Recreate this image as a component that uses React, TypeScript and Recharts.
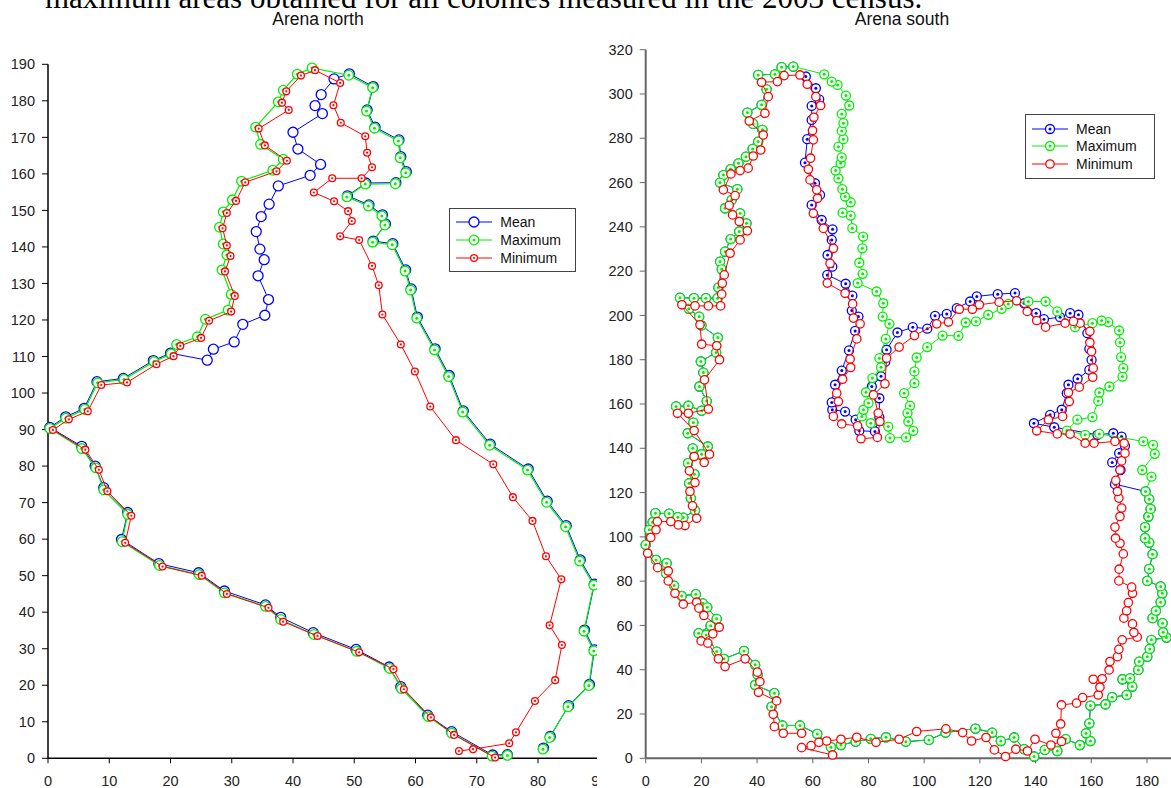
import { ScatterChart, Scatter, XAxis, YAxis, Legend } from 'recharts';

type Pt = [number, number];

// ---- Arena north ----
const northMean: Pt[] = [
  [75.0, 1.0], [72.6, 0.9], [65.9, 7.3], [62.0, 11.8], [57.6, 19.6], [55.7, 25.0], [50.3, 29.8],
  [43.3, 34.4], [38.0, 38.6], [35.5, 42.0], [28.8, 45.8], [24.6, 50.8], [18.1, 53.3], [12.0, 59.9],
  [13.0, 67.3], [9.1, 74.1], [7.7, 80.0], [5.5, 85.4], [0.3, 90.6], [2.9, 93.5], [5.9, 95.8],
  [8.0, 103.1], [12.3, 104.0], [17.2, 108.9], [20.0, 110.9], [26.0, 109.0], [27.0, 112.0],
  [30.4, 114.0], [31.8, 118.8], [35.4, 121.3], [36.0, 125.6], [34.3, 132.1], [35.3, 136.5],
  [34.6, 139.4], [34.0, 144.2], [34.8, 148.3], [36.1, 151.7], [37.6, 156.7], [42.8, 159.6],
  [44.5, 162.6], [40.8, 166.8], [40.0, 171.4], [44.8, 176.5], [43.6, 178.7], [44.6, 181.7],
  [46.7, 186.0], [49.2, 187.4], [53.1, 183.9], [52.1, 177.5], [53.4, 172.8], [57.3, 169.3],
  [57.6, 164.7], [58.5, 160.6], [56.8, 157.6], [51.9, 157.5], [48.9, 154.0], [52.4, 151.5],
  [54.6, 148.8], [55.1, 146.3], [53.1, 141.6], [56.3, 140.9], [58.4, 133.7], [59.3, 128.5],
  [60.3, 120.8], [63.2, 112.1], [65.5, 104.8], [67.8, 95.1], [72.2, 86.0], [78.4, 79.2],
  [81.5, 70.4], [84.6, 63.7], [86.9, 54.3], [89.2, 47.7], [87.6, 35.1], [89.2, 29.7],
  [88.4, 20.2], [85.0, 14.4], [82.0, 6.0], [80.9, 2.8],
];

const northMaximum: Pt[] = [
  [75.0, 0.8], [72.5, 0.6], [65.9, 6.9], [62.1, 11.4], [57.7, 19.1], [55.8, 24.6], [50.4, 29.3],
  [43.4, 33.9], [38.0, 38.0], [35.5, 41.6], [28.8, 45.3], [24.7, 50.3], [18.2, 52.8], [12.1, 59.3],
  [13.0, 66.8], [9.1, 73.5], [7.8, 79.5], [5.5, 84.8], [0.3, 90.3], [2.9, 93.1], [6.0, 95.5],
  [8.1, 102.8], [12.4, 103.7], [17.3, 108.6], [20.1, 110.7], [21.0, 113.3], [24.4, 115.4],
  [25.7, 120.2], [29.4, 122.7], [29.9, 127.0], [28.4, 133.7], [29.2, 137.8], [28.6, 140.8],
  [28.0, 145.4], [28.6, 149.6], [30.1, 152.9], [31.6, 158.0], [36.7, 161.0], [38.4, 164.0],
  [34.7, 168.1], [33.9, 172.8], [37.6, 179.7], [38.4, 182.9], [40.7, 187.3], [43.1, 189.0],
  [49.1, 187.0], [53.0, 183.6], [52.0, 177.2], [53.3, 172.5], [57.2, 169.0], [57.5, 164.4],
  [58.4, 160.3], [56.7, 157.3], [51.8, 157.2], [48.8, 153.7], [52.3, 151.2], [54.5, 148.5],
  [55.0, 146.0], [53.0, 141.3], [56.2, 140.6], [58.3, 133.4], [59.2, 128.2], [60.2, 120.5],
  [63.1, 111.8], [65.4, 104.5], [67.7, 94.8], [72.1, 85.7], [78.3, 78.9], [81.4, 70.1],
  [84.5, 63.4], [86.8, 54.0], [89.1, 47.4], [87.5, 34.8], [89.1, 29.4], [88.3, 19.9],
  [84.9, 14.1], [81.9, 5.7], [80.8, 2.5],
];

const northMinimum: Pt[] = [
  [67.1, 2.0], [69.4, 2.5], [75.3, 4.1], [76.4, 7.1], [79.5, 15.7], [82.8, 21.4], [83.9, 31.0],
  [81.9, 36.4], [83.8, 49.0], [81.3, 55.3], [79.1, 65.0], [75.9, 71.5], [72.7, 80.5], [66.6, 87.1],
  [62.4, 96.3], [59.9, 105.9], [57.6, 113.3], [54.6, 121.5], [54.0, 129.5], [52.9, 134.8],
  [50.8, 141.9], [47.7, 142.9], [49.6, 147.1], [49.0, 149.8], [46.7, 152.5], [43.4, 154.9],
  [46.4, 158.8], [51.2, 158.8], [52.9, 161.8], [52.1, 165.8], [51.8, 170.3], [47.8, 174.0],
  [46.6, 178.8], [47.7, 184.9], [43.6, 188.4], [41.3, 186.9], [38.9, 182.6], [38.2, 179.5],
  [39.3, 177.5], [34.4, 172.4], [35.4, 167.8], [39.0, 163.6], [37.3, 160.7], [32.2, 157.7],
  [30.7, 152.6], [29.2, 149.3], [28.5, 145.1], [29.2, 140.4], [29.8, 137.5], [28.9, 133.3],
  [30.5, 126.6], [29.9, 122.3], [26.3, 119.8], [25.0, 115.1], [21.6, 112.9], [20.5, 110.1],
  [17.7, 107.9], [12.9, 102.9], [8.7, 102.2], [6.5, 95.0], [3.4, 92.8], [0.8, 89.9], [6.1, 84.5],
  [8.3, 79.0], [9.7, 73.1], [13.6, 66.4], [12.6, 59.0], [18.7, 52.5], [25.1, 50.0], [29.2, 45.0],
  [36.0, 41.2], [38.4, 37.4], [44.0, 33.5], [50.8, 29.0], [56.4, 24.4], [58.1, 18.9], [62.5, 11.2],
  [66.3, 6.4], [73.0, 0.2],
];

// ---- Arena south ----
// left edge, bottom and right side: Mean and Maximum run together here
const southOuterEdge: Pt[] = [
  [53.0, 312.4], [48.8, 312.1], [46.4, 308.9], [40.4, 308.6], [43.4, 302.1], [41.6, 295.1],
  [36.5, 291.6], [38.6, 286.5], [41.9, 283.8], [40.4, 278.5], [38.4, 275.2], [36.0, 271.7],
  [33.3, 268.7], [30.5, 266.1], [27.9, 263.4], [26.7, 260.0], [32.9, 257.0], [30.9, 252.2],
  [28.5, 248.4], [33.9, 246.1], [36.2, 241.6], [33.6, 237.9], [30.5, 234.5], [28.5, 228.8],
  [26.7, 224.3], [27.3, 220.8], [26.1, 212.6], [25.8, 207.8], [21.6, 207.8], [17.3, 207.8],
  [12.3, 208.0], [15.5, 203.0], [19.2, 199.5], [20.0, 195.5], [25.9, 190.0], [25.3, 183.3],
  [19.8, 179.2], [20.7, 174.2], [19.3, 167.9], [21.9, 161.3], [20.1, 157.0], [15.3, 159.2],
  [10.9, 158.9], [17.1, 151.6], [15.1, 146.8], [22.3, 140.8], [20.1, 137.3], [16.9, 140.0],
  [15.2, 133.3], [17.5, 128.3], [15.6, 124.2], [16.2, 117.5], [17.7, 111.9], [13.5, 108.7],
  [11.5, 108.9], [8.4, 110.5], [3.5, 110.7], [2.5, 106.6], [1.3, 103.2], [0.0, 96.4], [3.7, 89.6],
  [7.5, 88.1], [7.3, 83.6], [10.2, 78.0], [12.9, 73.3], [18.0, 74.1], [20.5, 70.0], [22.1, 68.2],
  [25.5, 63.0], [23.3, 59.9], [19.0, 56.5], [21.7, 55.7], [25.5, 48.2], [28.1, 44.9], [35.3, 48.5],
  [39.3, 42.2], [40.2, 37.7], [39.3, 33.1], [46.2, 29.4], [45.2, 23.3], [49.1, 14.8], [55.4, 14.8],
  [61.6, 11.0], [66.5, 5.0], [70.1, 6.0], [75.4, 7.5], [80.8, 8.8], [86.3, 9.5], [93.4, 7.5],
  [101.7, 8.3], [107.7, 11.6], [118.4, 13.4], [124.4, 11.6], [127.5, 7.8], [132.3, 9.4],
  [135.9, 4.1], [139.5, 0.8], [143.3, 3.8], [147.8, 3.3], [150.8, 8.7], [155.9, 6.0], [159.7, 7.8],
  [158.1, 11.3], [159.3, 15.8], [159.7, 23.8], [165.1, 24.4], [167.5, 27.6], [172.7, 28.6],
  [174.7, 32.4], [171.2, 35.7], [173.9, 36.1], [176.9, 39.9], [177.2, 43.7], [180.1, 45.9],
  [181.0, 49.4], [181.6, 53.5], [187.0, 54.5], [185.8, 56.9], [185.6, 61.0], [182.0, 63.3],
  [183.2, 66.6], [184.9, 70.5], [185.5, 74.5], [184.9, 77.6], [180.1, 80.1], [180.8, 85.5],
  [182.0, 92.2], [180.8, 97.4], [179.3, 99.4], [179.3, 104.4], [180.5, 109.2], [181.3, 112.6],
  [180.8, 117.0], [179.5, 120.5],
];

const southMaximumStart: Pt[] = [[64.1, 308.9]];

const southMaximumRest: Pt[] = [
  [181.6, 127.2], [178.3, 130.2], [182.8, 137.5], [182.2, 141.5], [178.7, 143.1], [162.9, 146.5],
  [157.8, 146.1], [151.2, 148.0], [155.0, 152.9], [160.4, 154.1], [162.5, 161.4], [162.9, 165.2],
  [166.5, 167.9], [171.2, 172.4], [171.5, 176.2], [170.7, 181.2], [170.3, 187.8], [170.0, 193.2],
  [166.1, 197.0], [163.7, 197.7], [160.4, 196.5], [154.2, 194.7], [147.8, 201.8], [143.6, 206.3],
  [137.4, 206.3], [130.2, 205.2], [127.8, 203.0], [123.0, 200.3], [118.6, 197.3], [114.9, 196.8],
  [112.3, 190.8], [106.6, 190.9], [101.1, 185.7], [97.3, 181.0], [96.5, 174.7], [96.5, 169.4],
  [92.8, 164.9], [94.9, 159.2], [94.0, 155.9], [94.3, 152.1], [96.1, 147.9], [93.5, 144.9],
  [87.7, 144.6], [87.1, 149.8], [80.8, 151.3], [77.6, 154.4], [78.2, 157.4], [80.0, 160.4],
  [79.1, 165.3], [81.4, 171.7], [84.5, 176.6], [83.9, 180.7], [86.2, 189.4], [87.5, 196.2],
  [85.1, 199.5], [85.3, 205.5], [82.9, 210.8], [76.1, 214.6], [77.9, 218.8], [76.7, 223.8],
  [77.8, 230.3], [78.1, 235.6], [74.2, 239.4], [73.6, 245.1], [70.7, 246.4], [73.6, 251.1],
  [71.6, 253.7], [70.6, 257.0], [69.2, 261.9], [68.2, 265.4], [70.0, 268.7], [70.4, 271.4],
  [69.2, 276.2], [71.0, 279.6], [70.4, 283.3], [71.0, 286.8], [70.4, 291.0], [73.1, 294.8],
  [71.9, 299.3], [68.9, 304.1], [66.8, 305.6],
];

const southMeanRest: Pt[] = [
  [168.5, 123.8], [170.5, 130.2], [167.5, 133.6], [170.0, 137.8], [172.1, 141.1], [170.9, 145.3],
  [167.9, 146.8], [162.2, 146.1], [146.7, 149.5], [139.4, 151.3], [145.2, 155.1], [149.4, 157.4],
  [151.2, 164.9], [151.8, 168.7], [155.1, 171.4], [159.3, 175.4], [160.1, 179.9], [159.3, 184.9],
  [158.6, 192.0], [155.4, 200.3], [152.4, 201.0], [148.8, 199.2], [143.0, 198.3], [140.2, 201.0],
  [135.9, 205.5], [132.6, 210.1], [126.4, 209.6], [118.9, 208.6], [116.5, 206.3], [111.7, 203.3],
  [108.1, 200.7], [103.9, 199.8], [101.1, 194.0], [95.9, 194.7], [90.4, 192.3], [86.5, 184.5],
  [86.0, 179.0], [84.5, 172.5], [81.2, 167.9], [83.9, 162.6], [83.9, 154.0], [82.3, 147.6],
  [76.7, 147.9], [75.4, 152.9], [71.6, 156.6], [67.0, 157.4], [66.8, 160.7], [68.0, 168.7],
  [70.4, 175.1], [73.0, 184.2], [75.2, 193.0], [76.4, 199.5], [74.0, 202.2], [74.2, 208.9],
  [71.8, 214.3], [65.2, 218.3], [67.0, 222.0], [65.3, 227.3], [66.8, 234.1], [67.1, 238.9],
  [63.2, 243.1], [59.6, 249.9], [62.6, 254.4], [60.8, 259.7], [57.2, 269.0], [58.0, 279.6],
  [59.6, 288.3], [59.6, 294.6], [62.3, 297.6], [61.1, 302.6], [57.5, 307.9],
];

const southMinimum: Pt[] = [
  [67.1, 1.5], [56.0, 4.8], [59.4, 5.7], [62.2, 7.2], [65.0, 7.8], [70.1, 8.6], [75.8, 9.5],
  [82.7, 7.2], [91.0, 8.6], [97.3, 12.1], [107.8, 13.3], [113.8, 11.6], [117.0, 7.8], [122.2, 9.4],
  [125.2, 3.8], [129.2, 0.8], [132.9, 4.1], [137.1, 3.3], [139.8, 8.6], [145.5, 6.0], [149.3, 7.6],
  [147.3, 11.3], [149.0, 15.5], [149.3, 24.1], [154.7, 24.9], [156.9, 27.4], [162.5, 28.6],
  [163.1, 32.1], [160.7, 35.7], [163.9, 35.9], [166.4, 39.9], [166.7, 43.7], [169.4, 45.9],
  [169.9, 49.2], [171.1, 53.5], [176.5, 54.7], [175.3, 56.8], [174.8, 60.7], [171.7, 63.3],
  [172.7, 66.6], [173.3, 70.3], [174.8, 74.5], [174.5, 77.3], [169.9, 80.1], [170.0, 85.4],
  [171.5, 92.3], [170.3, 97.1], [168.7, 99.4], [168.5, 104.4], [170.3, 109.2], [170.9, 113.0],
  [169.9, 117.5], [169.4, 120.5], [168.8, 125.5], [170.3, 130.2], [170.9, 134.3], [172.1, 137.8],
  [171.8, 142.3], [168.5, 143.1], [161.0, 142.3], [157.8, 142.3], [152.4, 146.4], [147.8, 146.5],
  [140.4, 147.9], [144.6, 152.9], [149.7, 154.4], [152.1, 161.1], [151.8, 165.2], [155.7, 167.6],
  [160.5, 172.1], [160.7, 176.2], [160.1, 183.7], [159.5, 187.8], [159.5, 192.8], [156.0, 196.5],
  [153.6, 197.3], [150.6, 196.5], [143.6, 194.7], [140.4, 197.7], [137.0, 201.8], [133.2, 206.6],
  [126.9, 206.0], [119.8, 204.8], [117.3, 202.8], [112.6, 202.8], [108.7, 197.0], [104.5, 196.2],
  [96.5, 190.9], [91.0, 185.7], [86.5, 180.7], [85.9, 169.1], [81.8, 164.1], [83.5, 155.9],
  [84.1, 152.1], [83.2, 144.9], [77.3, 144.3], [76.1, 150.1], [70.4, 151.0], [67.4, 154.4],
  [69.2, 161.1], [68.6, 164.9], [70.7, 171.2], [73.6, 176.5], [73.4, 180.3], [75.8, 189.4],
  [77.0, 196.2], [74.6, 198.8], [74.3, 205.2], [71.6, 210.0], [65.2, 214.6], [66.2, 223.5],
  [67.4, 230.3], [63.8, 239.3], [60.2, 246.1], [61.7, 252.9], [61.4, 256.7], [59.0, 261.2],
  [58.4, 266.0], [59.2, 271.0], [60.2, 279.3], [59.9, 283.5], [60.4, 289.5], [62.8, 294.8],
  [61.1, 298.8], [58.0, 304.4], [55.4, 308.6], [49.7, 308.3], [47.3, 305.6], [41.6, 305.3],
  [44.0, 298.8], [42.8, 291.3], [37.2, 287.8], [42.2, 281.5], [41.3, 274.7], [38.6, 272.0],
  [36.8, 266.5], [33.9, 265.4], [30.6, 263.9], [27.9, 256.7], [32.1, 254.1], [30.0, 249.7],
  [31.2, 245.4], [33.6, 242.4], [36.5, 238.2], [33.9, 234.1], [30.3, 228.1], [28.2, 218.3],
  [27.5, 214.5], [27.3, 209.6], [26.9, 204.3], [22.5, 204.3], [17.7, 204.3], [13.0, 204.8],
  [19.5, 195.8], [20.1, 187.0], [25.5, 186.3], [26.5, 180.0], [21.1, 170.9], [22.5, 157.7],
  [15.3, 155.8], [11.4, 155.8], [17.4, 148.0], [22.9, 137.3], [21.0, 133.6], [17.4, 136.3],
  [15.7, 129.8], [17.7, 124.5], [15.9, 120.5], [16.8, 114.0], [18.3, 108.4], [14.1, 105.1],
  [11.7, 105.4], [9.0, 106.9], [4.2, 106.9], [3.7, 103.2], [1.8, 99.7], [0.7, 92.6], [4.3, 86.1],
  [8.1, 84.6], [8.1, 80.1], [10.5, 74.5], [13.5, 69.6], [18.3, 70.5], [19.1, 67.8], [20.9, 64.5],
  [26.4, 59.2], [24.1, 56.2], [19.9, 53.0], [22.3, 52.0], [26.1, 44.9], [28.5, 41.4], [35.7, 44.9],
  [40.1, 38.9], [41.0, 34.6], [40.5, 29.8], [47.0, 25.9], [45.8, 19.9], [46.2, 14.3], [49.4, 11.3],
  [56.0, 11.3],
];

const northXTicks = [0, 10, 20, 30, 40, 50, 60, 70, 80, 90];
const northYTicks = [0, 10, 20, 30, 40, 50, 60, 70, 80, 90, 100, 110, 120, 130, 140, 150, 160, 170, 180, 190];
const southXTicks = [0, 20, 40, 60, 80, 100, 120, 140, 160, 180, 200];
const southYTicks = [0, 20, 40, 60, 80, 100, 120, 140, 160, 180, 200, 220, 240, 260, 280, 300, 320];

const BLUE = '#0000ff';
const GREEN = '#00f000';
const RED = '#ff0000';
const FONT = '"Liberation Sans", Arial, sans-serif';

const rows = (pts: Pt[]) => pts.map(([x, y]) => ({ x, y }));

// ring marker, optionally with a filled centre dot
const ring = (color: string, r: number, dot: number) => (props: any) => {
  const { cx, cy } = props;
  if (cx == null || cy == null) return <g />;
  return (
    <g>
      <circle cx={cx} cy={cy} r={r} fill="#fff" stroke={color} strokeWidth={1.3} />
      {dot > 0 && <circle cx={cx} cy={cy} r={dot} fill={color} />}
    </g>
  );
};

type Key = { label: string; color: string; r: number; dot: number };

function KeyBox({ items, width }: { items: Key[]; width: number }) {
  return (
    <div
      style={{
        boxSizing: 'border-box',
        width,
        border: '1px solid #444',
        background: '#fff',
        padding: '5px 6px 5px 6px',
        fontFamily: FONT,
        fontSize: 14,
        color: '#111',
      }}
    >
      {items.map((it) => (
        <div key={it.label} style={{ display: 'flex', alignItems: 'center', height: 17.6 }}>
          <svg width={36} height={14} style={{ marginRight: 8, flex: 'none' }}>
            <line x1={0} y1={7} x2={36} y2={7} stroke={it.color} strokeWidth={1} />
            <circle cx={18} cy={7} r={it.r} fill="#fff" stroke={it.color} strokeWidth={1.3} />
            {it.dot > 0 && <circle cx={18} cy={7} r={it.dot} fill={it.color} />}
          </svg>
          <span>{it.label}</span>
        </div>
      ))}
    </div>
  );
}

const northKeys: Key[] = [
  { label: 'Mean', color: BLUE, r: 5, dot: 0 },
  { label: 'Maximum', color: GREEN, r: 4.8, dot: 1.5 },
  { label: 'Minimum', color: RED, r: 3.4, dot: 1.1 },
];
const southKeys: Key[] = [
  { label: 'Mean', color: BLUE, r: 4.5, dot: 1.5 },
  { label: 'Maximum', color: GREEN, r: 4.5, dot: 1.5 },
  { label: 'Minimum', color: RED, r: 4.2, dot: 0 },
];

const tickStyle = { fontSize: 14.5, fill: '#222', fontFamily: FONT };
const titleStyle = { position: 'absolute' as const, width: 200, top: 9, textAlign: 'center' as const, fontFamily: FONT, fontSize: 17.5, color: '#111' };

export default function App() {
  const southMean = [...southOuterEdge, ...southMeanRest];
  const southMaximum = [...southMaximumStart, ...southOuterEdge, ...southMaximumRest];

  return (
    <div style={{ position: 'absolute', left: 0, top: 0, width: 1171, height: 788, overflow: 'hidden', background: '#fff' }}>
      <svg width={1171} height={20} style={{ position: 'absolute', left: 0, top: 0 }}>
        <text x={45} y={8} fontFamily='"Liberation Serif", "Times New Roman", serif' fontSize={31} fill="#000">
          maximum areas obtained for all colonies measured in the 2003 census.
        </text>
      </svg>
      <div style={{ ...titleStyle, left: 218 }}>Arena north</div>
      <div style={{ ...titleStyle, left: 802 }}>Arena south</div>

      {/* north panel, cut off just past x = 89 */}
      <div style={{ position: 'absolute', left: 0, top: 0, width: 597, height: 788, overflow: 'hidden' }}>
        <ScatterChart width={609.25} height={790} margin={{ top: 64.3, right: 10, bottom: 1.7, left: 0 }}>
          <XAxis
            type="number"
            dataKey="x"
            domain={[0, 90]}
            ticks={northXTicks}
            interval={0}
            height={30}
            tickSize={5}
            tickMargin={12}
            stroke="#000"
            tick={tickStyle}
            axisLine={{ stroke: '#000', strokeWidth: 1.5 }}
          />
          <YAxis
            type="number"
            dataKey="y"
            domain={[0, 190]}
            ticks={northYTicks}
            interval={0}
            width={48}
            tickSize={6}
            tickMargin={7}
            stroke="#000"
            tick={tickStyle}
            axisLine={{ stroke: '#000', strokeWidth: 1.5 }}
          />
          <Scatter name="Mean" data={rows(northMean)} fill={BLUE} line={{ stroke: BLUE, strokeWidth: 1 }} shape={ring(BLUE, 5, 0)} isAnimationActive={false} />
          <Scatter name="Maximum" data={rows(northMaximum)} fill={GREEN} line={{ stroke: GREEN, strokeWidth: 1.2 }} shape={ring(GREEN, 4.8, 1.5)} isAnimationActive={false} />
          <Scatter name="Minimum" data={rows(northMinimum)} fill={RED} line={{ stroke: RED, strokeWidth: 1 }} shape={ring(RED, 3.4, 1.1)} isAnimationActive={false} />
          <Legend
            layout="vertical"
            align="center"
            verticalAlign="middle"
            wrapperStyle={{ left: 449.3, top: 207.7, width: 127 }}
            content={() => <KeyBox items={northKeys} width={127} />}
          />
        </ScatterChart>
      </div>

      {/* south panel, runs past the right edge */}
      <div style={{ position: 'absolute', left: 597, top: 0, width: 574, height: 788, overflow: 'hidden' }}>
        <ScatterChart width={615.7} height={790} margin={{ top: 49.7, right: 10, bottom: 1.7, left: 0 }}>
          <XAxis
            type="number"
            dataKey="x"
            domain={[0, 200]}
            ticks={southXTicks}
            interval={0}
            height={30}
            tickSize={5}
            tickMargin={12}
            stroke="#666"
            tick={tickStyle}
            axisLine={{ stroke: '#666', strokeWidth: 2 }}
          />
          <YAxis
            type="number"
            dataKey="y"
            domain={[0, 320]}
            ticks={southYTicks}
            interval={0}
            width={48.7}
            tickSize={6}
            tickMargin={7}
            stroke="#666"
            tick={tickStyle}
            axisLine={{ stroke: '#666', strokeWidth: 2 }}
          />
          <Scatter name="Mean" data={rows(southMean)} fill={BLUE} line={{ stroke: BLUE, strokeWidth: 1 }} shape={ring(BLUE, 4.5, 1.5)} isAnimationActive={false} />
          <Scatter name="Maximum" data={rows(southMaximum)} fill={GREEN} line={{ stroke: GREEN, strokeWidth: 1 }} shape={ring(GREEN, 4.5, 1.5)} isAnimationActive={false} />
          <Scatter name="Minimum" data={rows(southMinimum)} fill={RED} line={{ stroke: RED, strokeWidth: 1 }} shape={ring(RED, 4.2, 0)} isAnimationActive={false} />
          <Legend
            layout="vertical"
            align="center"
            verticalAlign="middle"
            wrapperStyle={{ left: 428, top: 114, width: 130 }}
            content={() => <KeyBox items={southKeys} width={130} />}
          />
        </ScatterChart>
      </div>
    </div>
  );
}
